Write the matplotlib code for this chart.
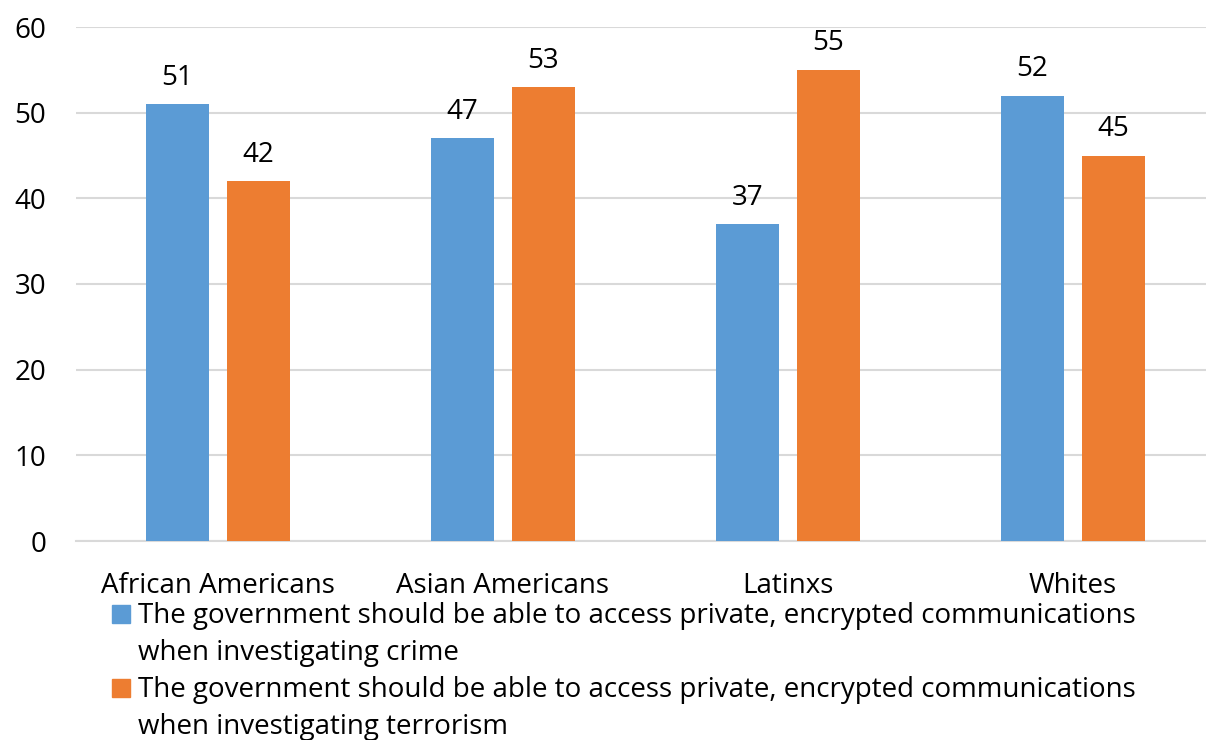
import numpy as np
import matplotlib.pyplot as plt
from matplotlib.patches import Rectangle

plt.rcParams['font.family'] = ['Open Sans', 'DejaVu Sans']

groups = ['African Americans', 'Asian Americans', 'Latinxs', 'Whites']
crime = [51, 47, 37, 52]
terrorism = [42, 53, 55, 45]
series_names = [
    ['The government should be able to access private, encrypted communications',
     'when investigating crime'],
    ['The government should be able to access private, encrypted communications',
     'when investigating terrorism'],
]
colors = ['#5B9BD5', '#ED7D31']

W, H = 1206, 740
fig = plt.figure(figsize=(W / 100, H / 100), dpi=100)
# plot area runs a little past the right edge of the figure
ax = fig.add_axes([75.5 / W, 1 - 541 / H, 1140 / W, 514 / H])

x = np.arange(len(groups))
w = 0.222
off = 0.142
b1 = ax.bar(x - off, crime, w, color=colors[0], zorder=3)
b2 = ax.bar(x + off, terrorism, w, color=colors[1], zorder=3)

for bars, vals in ((b1, crime), (b2, terrorism)):
    for bar, v in zip(bars, vals):
        ax.annotate(str(v), (bar.get_x() + bar.get_width() / 2, v),
                    xytext=(0, 14), textcoords='offset points',
                    ha='center', va='baseline', fontsize=20)

ax.set_xlim(-0.5, len(groups) - 0.5)
ax.set_ylim(0, 60)
ax.set_yticks(range(0, 61, 10))
ax.set_xticks(x)
ax.set_xticklabels(groups)
ax.tick_params(axis='both', length=0, labelsize=20)
ax.tick_params(axis='y', pad=21)
ax.tick_params(axis='x', pad=22)
ax.grid(axis='y', color='#D9D9D9', linewidth=1.5, zorder=0)
for s in ['top', 'right', 'left']:
    ax.spines[s].set_visible(False)
ax.spines['bottom'].set_color('#D9D9D9')
ax.spines['bottom'].set_linewidth(1.5)

# legend below the axes: square marker sits on the first line's baseline
line_h = 37
for i, (lines, c) in enumerate(zip(series_names, colors)):
    base = 623 + i * 2 * line_h
    fig.patches.append(Rectangle((112 / W, 1 - base / H), 18 / W, 18 / H,
                                 transform=fig.transFigure, color=c))
    for j, txt in enumerate(lines):
        fig.text(138 / W, 1 - (base + j * line_h) / H, txt,
                 ha='left', va='baseline', fontsize=20)

fig.savefig('out.png', dpi=100)
